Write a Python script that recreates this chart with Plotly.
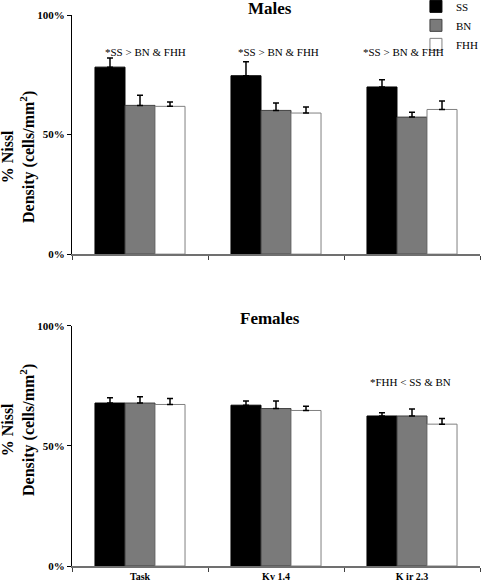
import plotly.graph_objects as go

categories = ["Task", "Kv 1.4", "K ir 2.3"]
series_names = ["SS", "BN", "FHH"]

male_ss = [78.2, 74.6, 69.9]
male_bn = [62.2, 60.1, 57.3]
male_fhh = [61.8, 59.0, 60.5]
male_ss_err = [3.8, 5.9, 3.0]
male_bn_err = [4.2, 3.1, 2.0]
male_fhh_err = [1.8, 2.5, 3.5]

female_ss = [67.9, 67.0, 62.5]
female_bn = [67.9, 65.6, 62.5]
female_fhh = [67.3, 64.8, 59.1]
female_ss_err = [2.2, 1.7, 1.3]
female_bn_err = [2.6, 3.1, 2.9]
female_fhh_err = [2.5, 1.8, 2.4]

male_notes = ["*SS > BN & FHH", "*SS > BN & FHH", "*SS > BN & FHH"]
male_note_y = [84.5, 84.5, 84.5]
female_note = "*FHH < SS & BN"
female_note_y = 76.8

y_tickvals = [0, 50, 100]
y_ticktext = ["0%", "50%", "100%"]

FONT = "Liberation Serif"
fills = ["#000000", "#7a7a7a", "#ffffff"]
outlines = ["#000000", "#404040", "#808080"]

fig = go.Figure()

male_vals = [male_ss, male_bn, male_fhh]
male_errs = [male_ss_err, male_bn_err, male_fhh_err]
female_vals = [female_ss, female_bn, female_fhh]
female_errs = [female_ss_err, female_bn_err, female_fhh_err]

for i, name in enumerate(series_names):
    fig.add_trace(go.Bar(
        x=categories, y=male_vals[i], name=name,
        marker=dict(color=fills[i], line=dict(color=outlines[i], width=1)),
        error_y=dict(type="data", symmetric=False, array=male_errs[i],
                     arrayminus=[0] * 3, color="black", thickness=1.5, width=3),
        xaxis="x", yaxis="y", legendgroup=name, showlegend=True,
    ))
for i, name in enumerate(series_names):
    fig.add_trace(go.Bar(
        x=categories, y=female_vals[i], name=name,
        marker=dict(color=fills[i], line=dict(color=outlines[i], width=1)),
        error_y=dict(type="data", symmetric=False, array=female_errs[i],
                     arrayminus=[0] * 3, color="black", thickness=1.5, width=3),
        xaxis="x2", yaxis="y2", legendgroup=name, showlegend=False,
    ))

top_dom = [0.566, 1.0]
bot_dom = [0.0, 0.4356]

xcommon = dict(type="category", showgrid=False, zeroline=False, showline=True,
               linecolor="#707070", linewidth=1.5, ticks="outside", tickson="boundaries",
               ticklen=4, tickcolor="#404040", tickwidth=1,
               tickfont=dict(family=FONT, size=10, color="black", weight="bold"))
ycommon = dict(range=[0, 100], tickmode="array", tickvals=y_tickvals, ticktext=y_ticktext,
               showgrid=False, zeroline=False, showline=True, linecolor="black", linewidth=1,
               ticks="outside", ticklen=4, tickcolor="black",
               tickfont=dict(family=FONT, size=11, color="black", weight="bold"))

note_shift = [5, 2, -9]
annotations = []
for c, t, yy, sh in zip(categories, male_notes, male_note_y, note_shift):
    annotations.append(dict(x=c, y=yy, xref="x", yref="y", text=t, showarrow=False,
                            xshift=sh, font=dict(family=FONT, size=11, color="black")))
annotations.append(dict(x=categories[2], y=female_note_y, xref="x2", yref="y2",
                        text=female_note, showarrow=False, xshift=-2,
                        font=dict(family=FONT, size=11, color="black")))
annotations.append(dict(x=0.485, y=1.0, xref="paper", yref="paper", yanchor="middle",
                        yshift=7, text="<b>Males</b>", showarrow=False,
                        font=dict(family=FONT, size=17, color="black")))
annotations.append(dict(x=0.485, y=bot_dom[1], xref="paper", yref="paper", yanchor="middle",
                        yshift=7, text="<b>Females</b>", showarrow=False,
                        font=dict(family=FONT, size=17, color="black")))
for yc in [(566 - 157) / 551, (566 - 430) / 551]:
    annotations.append(dict(x=(18 - 72) / 408, y=yc, xref="paper", yref="paper",
                            text="<b>% Nissl<br>Density (cells/mm<sup>2</sup>)</b>",
                            textangle=-90, showarrow=False, xanchor="center", yanchor="middle",
                            font=dict(family=FONT, size=16, color="black")))

fig.update_layout(
    width=482, height=588,
    margin=dict(l=72, r=2, t=15, b=22, autoexpand=False),
    paper_bgcolor="white", plot_bgcolor="white",
    font=dict(family=FONT, color="black"),
    barmode="group", bargap=0.338, bargroupgap=0,
    xaxis=dict(xcommon, domain=[0, 1], anchor="y", showticklabels=False),
    yaxis=dict(ycommon, domain=top_dom, anchor="x"),
    xaxis2=dict(xcommon, domain=[0, 1], anchor="y2"),
    yaxis2=dict(ycommon, domain=bot_dom, anchor="x2"),
    legend=dict(x=0.843, y=1.042, xanchor="left", yanchor="top",
                font=dict(family=FONT, size=11, color="black"),
                bgcolor="rgba(0,0,0,0)", tracegroupgap=0, itemwidth=30),
    annotations=annotations,
    showlegend=True,
)

fig.write_html("out.html", config={"displayModeBar": False},
               post_script="document.body.style.margin='0';")
